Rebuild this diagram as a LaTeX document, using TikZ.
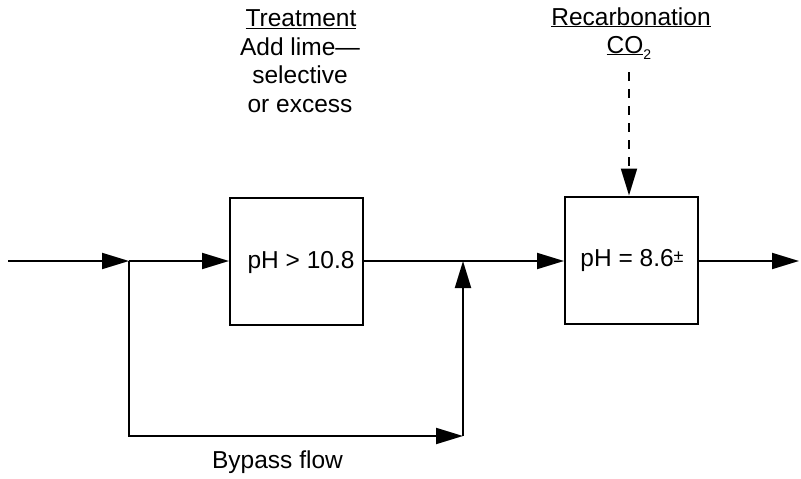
\documentclass[tikz,border=0pt]{standalone}
\usepackage{fontspec}
\setmainfont{Liberation Sans}
\usetikzlibrary{arrows.meta}
\begin{document}
\begin{tikzpicture}[x=1pt,y=-1pt,
  flow/.style={line width=2pt,-{Triangle[length=27pt,width=16pt]}},
  plain/.style={line width=2pt},
  unit/.style={draw,line width=2pt,minimum width=133pt,minimum height=127pt,inner sep=0pt},
  lbl/.style={inner sep=0pt,anchor=base,font=\fontsize{24.5}{28}\selectfont}]
\useasboundingbox (0,0) rectangle (801,479);
% boxes
\node[unit] (b1) at (296.5,261.5) {};
\node[unit] (b2) at (631.5,260) {};
% texts
\node[lbl] (treat) at (301,27) {\underline{Treatment}};
\node[lbl] (add) at (300,55) {Add lime—};
\node[lbl] (sel) at (300,83) {selective};
\node[lbl] (exc) at (300,112) {or excess};
\node[lbl] (recarb) at (631,25) {\underline{Recarbonation}};
\node[lbl] (co2t) at (629,53) {\underline{CO}\raisebox{-6pt}{\fontsize{14}{14}\selectfont 2}};
\node[lbl] (ph1) at (301,268) {pH > 10.8};
\node[lbl] (ph2) at (632,266) {pH = 8.6\raisebox{4pt}{\fontsize{18}{18}\selectfont ±}};
\node[lbl] (byp) at (277.5,468) {Bypass flow};
% coordinates
\coordinate (in) at (8,261);
\coordinate (split) at (129,261);
\coordinate (join) at (463,261);
\coordinate (out) at (799,261);
\coordinate (bl) at (129,436);
\coordinate (br) at (463,436);
\coordinate (co2) at (629,72);
% connectors
\draw[flow] (in) -- (split);
\draw[flow] (split) -- (split -| b1.west);
\draw[plain] (split -| b1.east) -- (join);
\draw[flow] (join) -- (join -| b2.west);
\draw[flow] (join -| b2.east) -- (out);
\draw[flow] (split) -- (bl) -- (br);
\draw[flow] (br) -- (join);
\draw[flow,dash pattern=on 9pt off 8pt] (co2) -- (co2 |- b2.north);
\end{tikzpicture}
\end{document}
